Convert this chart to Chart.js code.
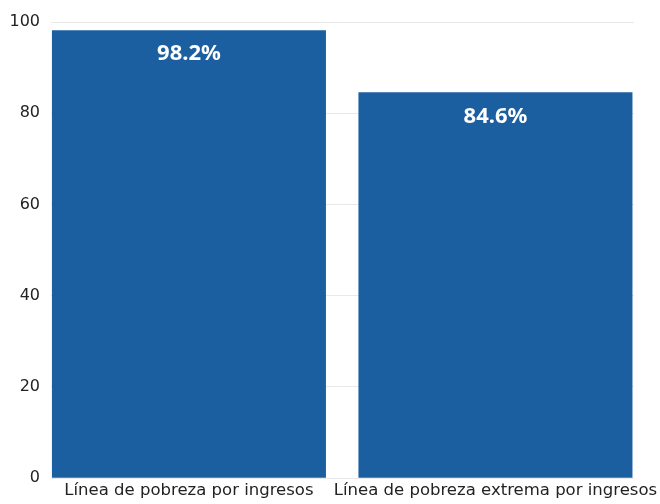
<!DOCTYPE html>
<html>
<head>
<meta charset="utf-8">
<script src="https://cdn.jsdelivr.net/npm/chart.js@4"></script>
<style>
  html, body { margin: 0; padding: 0; background: #fff; }
  #box { width: 660px; height: 504px; }
</style>
</head>
<body>
<div id="box"><canvas id="grafico"></canvas></div>
<script>
const categorie = ["Línea de pobreza por ingresos", "Línea de pobreza extrema por ingresos"];
const valori = [98.2, 84.6];
const tacche = [0, 20, 40, 60, 80, 100];

// etichette bianche dentro le barre
const etichettePlugin = {
    id: 'etichettePlugin',
    afterDatasetsDraw(chart) {
        const ctx = chart.ctx;
        const meta = chart.getDatasetMeta(0);
        ctx.save();
        ctx.fillStyle = '#ffffff';
        ctx.font = 'bold 22px "Noto Sans"';
        ctx.textAlign = 'center';
        ctx.textBaseline = 'middle';
        meta.data.forEach((bar, i) => {
            ctx.fillText(valori[i].toFixed(1) + '%', bar.x, bar.y + 24);
        });
        ctx.restore();
    }
};

new Chart(document.getElementById('grafico').getContext('2d'), {
    type: 'bar',
    data: {
        datasets: [{
            data: valori.map((v, i) => ({ x: i, y: v })),
            backgroundColor: '#1c5fa0',
            borderWidth: 0,
            categoryPercentage: 1,
            barPercentage: 0.894
        }]
    },
    options: {
        responsive: true,
        maintainAspectRatio: false,
        animation: false,
        layout: { padding: { top: 22, right: 26, left: 10, bottom: 0 } },
        plugins: {
            legend: { display: false },
            tooltip: { enabled: false }
        },
        scales: {
            x: {
                type: 'linear',
                offset: false,
                min: -0.45,
                max: 1.452,
                afterBuildTicks(axis) {
                    axis.ticks = categorie.map((c, i) => ({ value: i }));
                },
                grid: { display: false, drawTicks: false },
                border: { display: false },
                ticks: {
                    color: '#222',
                    font: { family: 'DejaVu Sans', size: 16.5 },
                    maxRotation: 0,
                    autoSkip: false,
                    padding: 3,
                    callback: (v) => categorie[v]
                },
                // le etichette lunghe non devono spostare l'area del grafico
                afterFit(scale) {
                    scale.paddingLeft = 0;
                    scale.paddingRight = 0;
                }
            },
            y: {
                min: 0,
                max: 100,
                afterBuildTicks(axis) {
                    axis.ticks = tacche.map(v => ({ value: v }));
                },
                grid: { color: '#e8e8e8', drawTicks: false },
                border: { display: false },
                ticks: {
                    color: '#222',
                    font: { family: 'DejaVu Sans', size: 16 },
                    padding: 11
                },
                afterFit(scale) {
                    scale.width = 41;
                }
            }
        }
    },
    plugins: [etichettePlugin]
});
</script>
</body>
</html>
